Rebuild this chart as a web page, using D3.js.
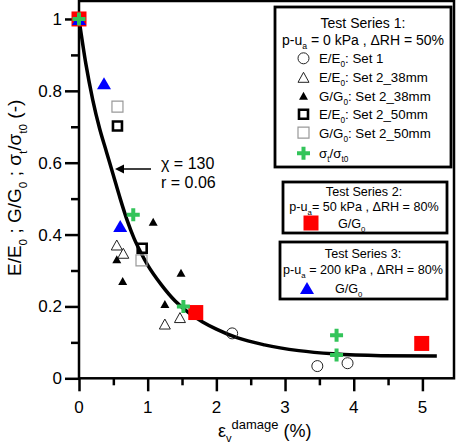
<!DOCTYPE html>
<html>
<head>
<meta charset="utf-8">
<script src="https://cdn.jsdelivr.net/npm/d3@7"></script>
<style>
  body { margin: 0; background: #fff; }
  svg { display: block; font-family: "Liberation Sans", Arial, sans-serif; }
</style>
</head>
<body>
<svg id="chart" width="458" height="443"></svg>
<script>
// data: [strain %, ratio]
const eSet1 = [[2.23, 0.125], [3.47, 0.034], [3.91, 0.042]];
const eSet2_38 = [[0.55, 0.371], [0.645, 0.348], [1.25, 0.151], [1.47, 0.169]];
const gSet2_38 = [[0.55, 0.331], [0.636, 0.271], [1.08, 0.436], [1.25, 0.207], [1.485, 0.294]];
const eSet2_50 = [[0.56, 0.702], [0.92, 0.362]];
const gSet2_50 = [[0.56, 0.756], [0.91, 0.328]];
const sigma = [[0, 1], [0.79, 0.455], [1.52, 0.2], [3.75, 0.12], [3.75, 0.065]];
const series2 = [[0, 1], [1.70, 0.183], [4.99, 0.097]];
const series3 = [[0, 1], [0.364, 0.821], [0.60, 0.424]];
// fitted curve (chi = 130, r = 0.06)
const fitCurve = [[0, 1], [0.1, 0.875], [0.2, 0.775], [0.3, 0.695], [0.4, 0.63], [0.5, 0.565],
  [0.6, 0.5], [0.7, 0.44], [0.8, 0.39], [0.9, 0.35], [1.0, 0.315], [1.2, 0.26], [1.4, 0.215],
  [1.6, 0.182], [1.8, 0.157], [2.0, 0.137], [2.3, 0.113], [2.7, 0.093], [3.2, 0.077],
  [3.7, 0.068], [4.4, 0.063], [5.21, 0.062]];
const xTicks = [0, 1, 2, 3, 4, 5];
const yTicks = [0, 0.2, 0.4, 0.6, 0.8, 1];

const svg = d3.select('#chart');
const margin = {top: 1, right: 4, bottom: 65, left: 79};
const W = 458, H = 443;

const x = d3.scaleLinear().domain([0, 5.46]).range([margin.left, W - margin.right]);
const y = d3.scaleLinear().domain([0, 1.05]).range([378.3, margin.top]);

// helper for text with sub/superscripts
function rich(t, parts, size) {
  let off = 0;
  parts.forEach(p => {
    const txt = typeof p === 'string' ? p : p[0];
    const kind = typeof p === 'string' ? '' : p[1];
    let target = 0, fs = size;
    if (kind === 'sub') { target = size * 0.3; fs = size * 0.62; }
    if (kind === 'sup') { target = -size * 0.42; fs = size * 0.72; }
    t.append('tspan').attr('dy', target - off).attr('font-size', fs).text(txt);
    off = target;
  });
}

// frame
svg.append('rect')
  .attr('x', x(0)).attr('y', y(1.05))
  .attr('width', x(5.46) - x(0)).attr('height', y(0) - y(1.05))
  .attr('fill', 'none').attr('stroke', '#000').attr('stroke-width', 2.5);

// x axis
const xAxis = svg.append('g').attr('transform', 'translate(0,' + y(0) + ')');
xAxis.call(d3.axisBottom(x).tickValues(d3.range(0, 5.5, 0.5)).tickSize(7).tickFormat(''));
xAxis.call(g => g.selectAll('.tick line').filter(d => Math.abs(d % 1) < 1e-9).attr('y2', 13));
xAxis.selectAll('line, path').attr('stroke', '#000').attr('stroke-width', 2.5);
xAxis.select('.domain').remove();
svg.append('g').selectAll('text').data(xTicks).enter().append('text')
  .attr('x', d => x(d)).attr('y', 413)
  .attr('text-anchor', 'middle').attr('font-size', 17).text(d => d);

// y axis
const yAxis = svg.append('g').attr('transform', 'translate(' + x(0) + ',0)');
yAxis.call(d3.axisLeft(y).tickValues(d3.range(0, 1.01, 0.1)).tickSize(8).tickFormat(''));
yAxis.call(g => g.selectAll('.tick line').filter(d => Math.abs(Math.round(d * 10) % 2) < 1e-9).attr('x2', -14));
yAxis.selectAll('line').attr('stroke', '#000').attr('stroke-width', 2.5);
yAxis.select('.domain').remove();
svg.append('g').selectAll('text').data(yTicks).enter().append('text')
  .attr('x', 62).attr('y', d => y(d) + 6)
  .attr('text-anchor', 'end').attr('font-size', 17).text(d => d);

// axis titles
const xt = svg.append('text').attr('x', 218).attr('y', 437).attr('font-size', 18);
rich(xt, ['\u03b5', ['v', 'sub'], ['damage', 'sup'], ' (%)'], 18);

const yt = svg.append('text').attr('transform', 'translate(21,276) rotate(-90)').attr('font-size', 19);
rich(yt, ['E/E', ['0', 'sub'], ' ; G/G', ['0', 'sub'], ' ; \u03c3', ['t', 'sub'], '/\u03c3', ['t0', 'sub'], ' (-)'], 19);

// fitted curve
svg.append('path')
  .datum(fitCurve)
  .attr('fill', 'none').attr('stroke', '#000').attr('stroke-width', 3.5)
  .attr('d', d3.line().x(d => x(d[0])).y(d => y(d[1])).curve(d3.curveMonotoneX));

// markers
function marker(g, type, cx, cy) {
  const tri = (w, h) => `M${cx},${cy - h / 2}L${cx + w / 2},${cy + h / 2}L${cx - w / 2},${cy + h / 2}Z`;
  const sq = s => `M${cx - s / 2},${cy - s / 2}h${s}v${s}h${-s}Z`;
  if (type === 'circle') g.append('circle').attr('cx', cx).attr('cy', cy).attr('r', 5.5)
    .attr('fill', 'none').attr('stroke', '#222').attr('stroke-width', 1);
  if (type === 'triOpen') g.append('path').attr('d', tri(11, 10))
    .attr('fill', 'none').attr('stroke', '#222').attr('stroke-width', 1);
  if (type === 'triFill') g.append('path').attr('d', tri(9, 8)).attr('fill', '#000');
  if (type === 'sqBold') g.append('path').attr('d', sq(9))
    .attr('fill', 'none').attr('stroke', '#000').attr('stroke-width', 2.6);
  if (type === 'sqLight') g.append('path').attr('d', sq(11))
    .attr('fill', 'none').attr('stroke', '#999').attr('stroke-width', 1.2);
  if (type === 'sqRed') g.append('path').attr('d', sq(15)).attr('fill', '#ff0000');
  if (type === 'triBlue') g.append('path').attr('d', tri(14, 12)).attr('fill', '#0000ff');
  if (type === 'plus') g.append('path')
    .attr('d', `M${cx - 6.5},${cy}h13M${cx},${cy - 6.5}v13`)
    .attr('stroke', '#33c45a').attr('stroke-width', 4).attr('fill', 'none');
}

const pts = svg.append('g');
[[eSet1, 'circle'], [eSet2_38, 'triOpen'], [gSet2_38, 'triFill'], [gSet2_50, 'sqLight'],
 [eSet2_50, 'sqBold'], [series2, 'sqRed'], [series3, 'triBlue'], [sigma, 'plus']]
  .forEach(([data, type]) => data.forEach(d => marker(pts, type, x(d[0]), y(d[1]))));

// annotation arrow
svg.append('line').attr('x1', 151).attr('y1', 169).attr('x2', 120).attr('y2', 169)
  .attr('stroke', '#000').attr('stroke-width', 1.5);
svg.append('path').attr('d', 'M115,169l9,-4.5v9Z').attr('fill', '#000');
svg.append('text').attr('x', 161).attr('y', 169).attr('font-size', 16).text('\u03c7 = 130');
svg.append('text').attr('x', 161).attr('y', 188).attr('font-size', 16).text('r = 0.06');

// legend boxes
function box(x0, y0, w, h) {
  svg.append('rect').attr('x', x0).attr('y', y0).attr('width', w).attr('height', h)
    .attr('fill', '#fff').attr('stroke', '#000').attr('stroke-width', 2.8);
}
const fs = 14, fr = 13.3, fs2 = 12.6;
box(275, 7, 176, 160);
svg.append('text').attr('x', 363).attr('y', 28).attr('text-anchor', 'middle').attr('font-size', fs).text('Test Series 1:');
rich(svg.append('text').attr('x', 363).attr('y', 45).attr('text-anchor', 'middle').attr('font-size', fs),
  ['p-u', ['a', 'sub'], ' = 0 kPa , \u0394RH = 50%'], fs);
const leg1 = [
  ['circle', ['E/E', ['0', 'sub'], ': Set 1']],
  ['triOpen', ['E/E', ['0', 'sub'], ': Set 2_38mm']],
  ['triFill', ['G/G', ['0', 'sub'], ': Set 2_38mm']],
  ['sqBold', ['E/E', ['0', 'sub'], ': Set 2_50mm']],
  ['sqLight', ['G/G', ['0', 'sub'], ': Set 2_50mm']],
  ['plus', ['\u03c3', ['t', 'sub'], '/\u03c3', ['t0', 'sub']]]
];
const rowY = [58.3, 77.3, 95.7, 114.3, 132.7, 153.3];
leg1.forEach(([type, parts], i) => {
  marker(svg, type, 303.5, rowY[i]);
  rich(svg.append('text').attr('x', 319).attr('y', rowY[i] + 5).attr('font-size', fr), parts, fr);
});

box(283, 182, 164, 51);
svg.append('text').attr('x', 364).attr('y', 196).attr('text-anchor', 'middle').attr('font-size', fs2).text('Test Series 2:');
rich(svg.append('text').attr('x', 364).attr('y', 211).attr('text-anchor', 'middle').attr('font-size', fs2),
  ['p-u', ['a', 'sub'], '= 50 kPa , \u0394RH = 80%'], fs2);
marker(svg, 'sqRed', 311, 223);
rich(svg.append('text').attr('x', 338).attr('y', 228).attr('font-size', fs2), ['G/G', ['0', 'sub']], fs2);

box(280, 242, 167, 57);
svg.append('text').attr('x', 363).attr('y', 258).attr('text-anchor', 'middle').attr('font-size', fs2).text('Test Series 3:');
rich(svg.append('text').attr('x', 363).attr('y', 274).attr('text-anchor', 'middle').attr('font-size', fs2),
  ['p-u', ['a', 'sub'], ' = 200 kPa , \u0394RH = 80%'], fs2);
marker(svg, 'triBlue', 307, 288);
rich(svg.append('text').attr('x', 335).attr('y', 293).attr('font-size', fs2), ['G/G', ['0', 'sub']], fs2);
</script>
</body>
</html>
